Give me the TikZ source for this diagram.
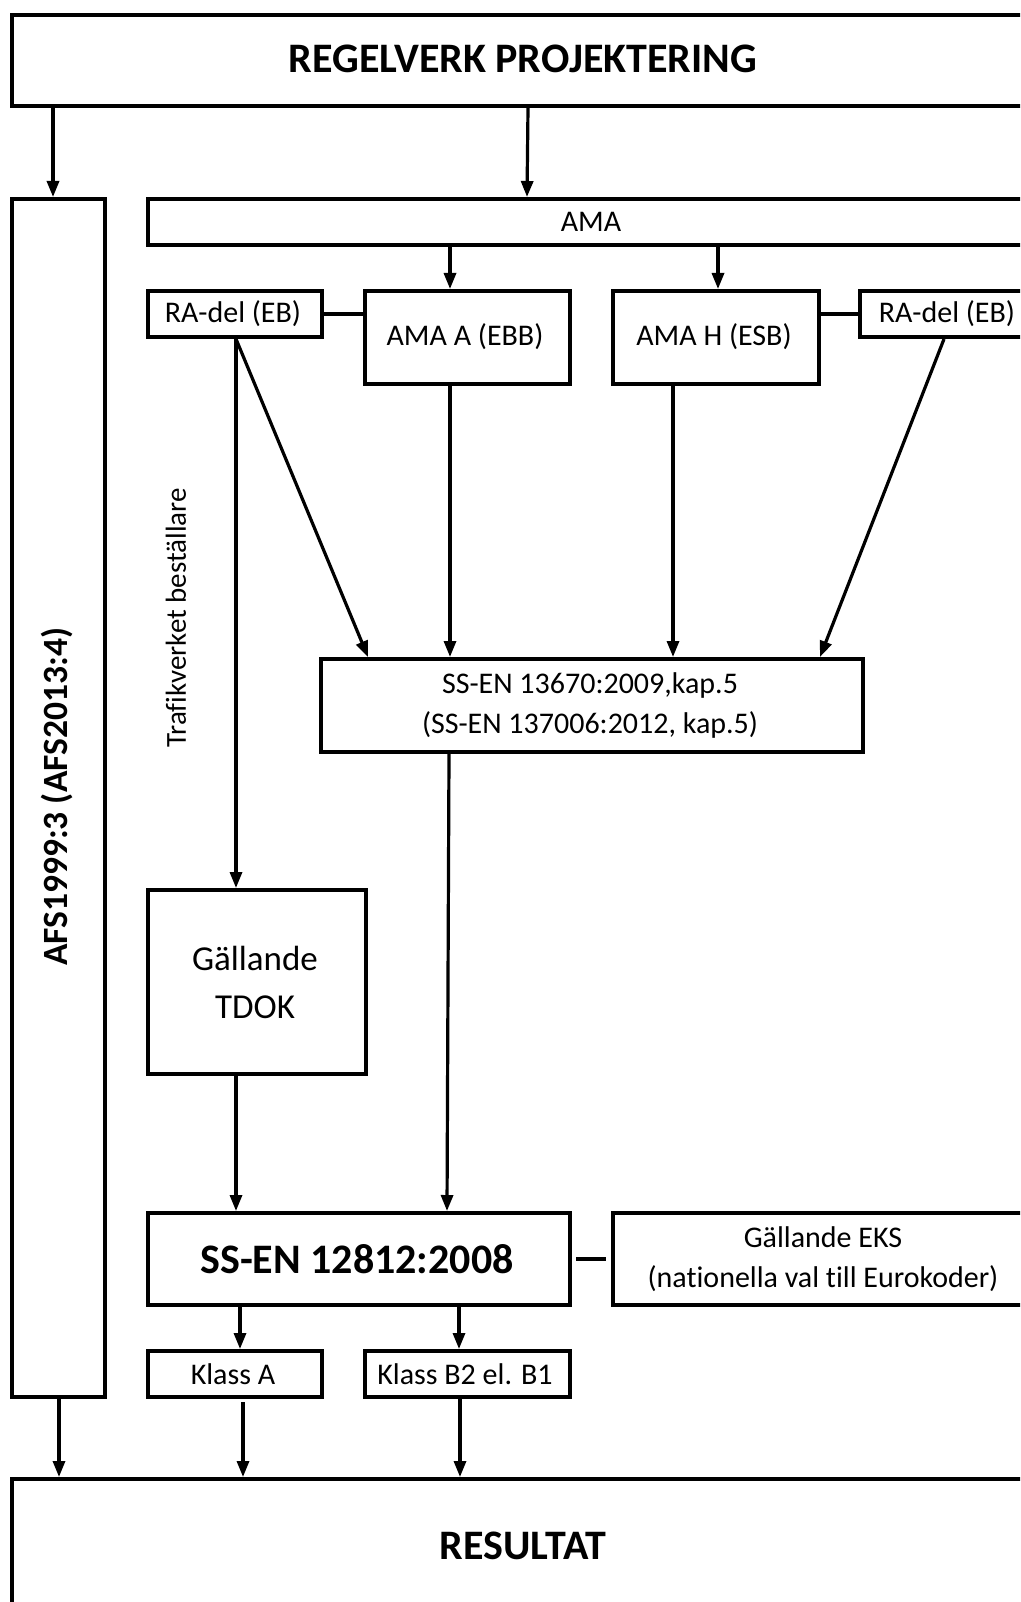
\documentclass[tikz,border=0pt]{standalone}
\usepackage{fontspec}
\setmainfont{Carlito}[Ligatures={NoCommon}]
\usetikzlibrary{arrows.meta}
\begin{document}
\begin{tikzpicture}[x=1pt,y=-1pt,
  box/.style={draw,line width=4pt,anchor=north west,inner sep=0pt},
  arr/.style={line width=3.2pt,-{Triangle[length=16pt,width=12pt]}},
  ln/.style={line width=3.4pt},
  tn/.style={font=\fontsize{30}{40}\selectfont,align=center},
  tm/.style={font=\fontsize{35}{48}\selectfont,align=center},
  tb/.style={font=\bfseries\fontsize{42}{50}\selectfont},
  tafs/.style={font=\bfseries\fontsize{35.5}{42}\selectfont},
  tv/.style={font=\fontsize{29}{35}\selectfont}]
\useasboundingbox (0,0) rectangle (1020,1602);
\clip (0,0) rectangle (1020,1602);
% boxes
\node[box,minimum width=1030pt,minimum height=91pt] (top) at (10,13) {};
\node[tb] (toptxt) at (523,59) {REGELVERK PROJEKTERING};
\node[box,minimum width=93pt,minimum height=1198pt] (afs) at (10,197) {};
\node[tafs,rotate=90] (afstxt) at (57,797) {AFS1999:3 (AFS2013:4)};
\node[box,minimum width=894pt,minimum height=46pt] (ama) at (146,197) {};
\node[tn] (amatxt) at (591,222) {AMA};
\node[box,minimum width=174pt,minimum height=46pt,tn] (ral) at (146,289) {};
\node[tn] (raltxt) at (233,314) {RA-del (EB)};
\node[box,minimum width=205pt,minimum height=93pt] (amaa) at (363,289) {};
\node[tn] (amaatxt) at (465,337) {AMA A (EBB)};
\node[box,minimum width=206pt,minimum height=93pt] (amah) at (611,289) {};
\node[tn] (amahtxt) at (714,337) {AMA H (ESB)};
\node[box,minimum width=182pt,minimum height=46pt] (rar) at (858,289) {};
\node[tn] (rartxt) at (947,314) {RA-del (EB)};
\node[box,minimum width=542pt,minimum height=93pt] (ss1) at (319,657) {};
\node[tn] (ss1txt) at (590,705) {SS-EN 13670:2009,kap.5\\(SS-EN 137006:2012, kap.5)};
\node[tv,rotate=90] (traf) at (176,618) {Trafikverket beställare};
\node[box,minimum width=218pt,minimum height=184pt] (tdok) at (146,888) {};
\node[tm] (tdoktxt) at (255,982) {Gällande\\TDOK};
\node[box,minimum width=422pt,minimum height=92pt] (ss2) at (146,1211) {};
\node[tb] (ss2txt) at (357,1259) {SS-EN 12812:2008};
\node[box,minimum width=429pt,minimum height=92pt] (eks) at (611,1211) {};
\node[tn] (ekstxt) at (823,1259) {Gällande EKS\\(nationella val till Eurokoder)};
\node[box,minimum width=174pt,minimum height=46pt] (ka) at (146,1349) {};
\node[tn] (katxt) at (233,1374) {Klass A};
\node[box,minimum width=205pt,minimum height=46pt] (kb) at (363,1349) {};
\node[tn] (kbtxt) at (465,1374) {Klass B2 el. B1};
\node[box,minimum width=1030pt,minimum height=200pt] (res) at (10,1477) {};
\node[tb] (restxt) at (523,1546) {RESULTAT};
% connectors
\draw[arr] (top.south -| 53,0) -- (afs.north -| 53,0);
\draw[arr] (top.south -| 528,0) -- (ama.north -| 527,0);
\draw[arr] (ama.south -| 450,0) -- (amaa.north -| 450,0);
\draw[arr] (ama.south -| 718,0) -- (amah.north -| 718,0);
\draw[ln] (ral.east) -- (amaa.west |- ral.east);
\draw[ln] (amah.east |- rar.west) -- (rar.west);
\draw[arr] (ral.south -| 236,0) -- (tdok.north -| 236,0);
\draw[arr] (ral.south -| 236,0) -- (ss1.north -| 368,0);
\draw[arr] (amaa.south -| 450,0) -- (ss1.north -| 450,0);
\draw[arr] (amah.south -| 673,0) -- (ss1.north -| 673,0);
\draw[arr] (rar.south -| 944,0) -- (ss1.north -| 820,0);
\draw[arr] (ss1.south -| 449,0) -- (ss2.north -| 447,0);
\draw[arr] (tdok.south -| 236,0) -- (ss2.north -| 236,0);
\draw[ln,shorten <=4pt,shorten >=5pt] (ss2.east) -- (eks.west |- ss2.east);
\draw[arr] (ss2.south -| 240,0) -- (ka.north -| 240,0);
\draw[arr] (ss2.south -| 459,0) -- (kb.north -| 459,0);
\draw[arr] (afs.south -| 59,0) -- (res.north -| 59,0);
\draw[arr,shorten <=3pt] (ka.south -| 243,0) -- (res.north -| 243,0);
\draw[arr] (kb.south -| 460,0) -- (res.north -| 460,0);
\end{tikzpicture}
\end{document}
